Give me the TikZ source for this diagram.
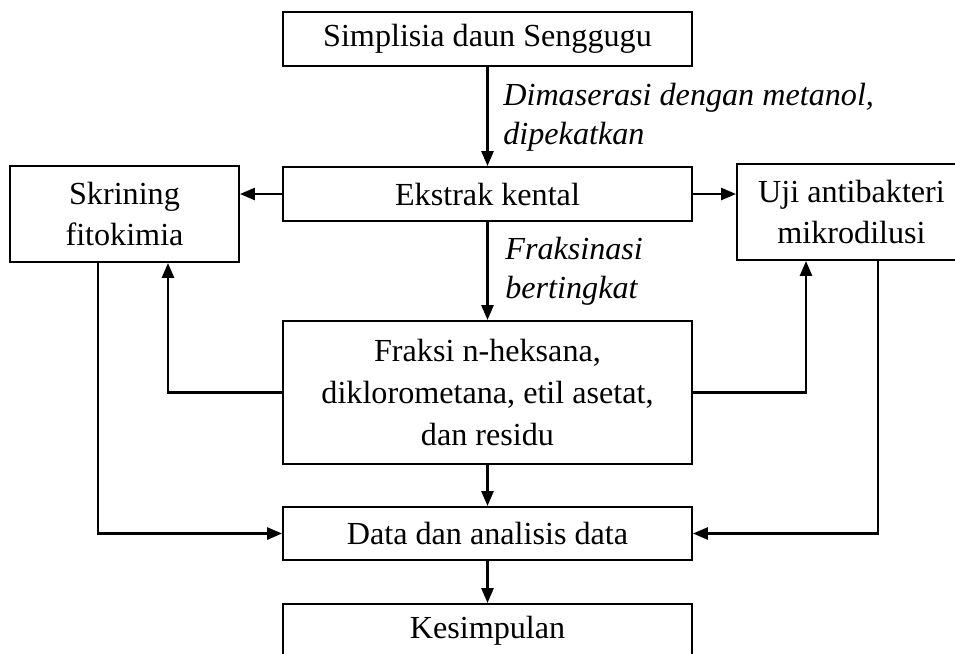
\documentclass[tikz,border=0pt]{standalone}
\usepackage{fontspec}
\setmainfont{Liberation Serif}
\usetikzlibrary{arrows.meta}

\begin{document}
\begin{tikzpicture}
[
  x=0.02cm, y=-0.02cm,
  box/.style={draw,line width=1.1pt,inner sep=0pt,align=center,
    font=\fontsize{18.3}{23.8}\selectfont},
  wide/.style={box,minimum width=8.18cm},
  side/.style={box,minimum width=4.58cm,minimum height=1.92cm},
  lbl/.style={anchor=west,align=left,inner sep=0pt,
    font=\fontsize{18.3}{22}\selectfont\itshape},
  arr/.style={line width=1.5pt,-{Triangle[length=0.3cm,width=0.24cm]}}
]

\clip (0,0) rectangle (955,653);

\node[wide,minimum height=1.08cm] (simplisia) at (487.5,39) {Simplisia daun Senggugu};
\node[wide,minimum height=1.08cm] (ekstrak) at (487.5,194) {Ekstrak kental};
\node[side] (skrining) at (124.5,214) {Skrining\\fitokimia};
\node[side] (uji) at (851.5,212) {Uji antibakteri\\mikrodilusi};
\node[wide,minimum height=2.86cm] (fraksi) at (487.5,392.5) {Fraksi n-heksana,\\diklorometana, etil asetat,\\dan residu};
\node[wide,minimum height=1.06cm] (data) at (487.5,533.5) {Data dan analisis data};
\node[wide,minimum height=1.08cm] (simpulan) at (487.5,631) {Kesimpulan};

\node[lbl] (maserasi) at (503,117) {Dimaserasi dengan metanol,\\dipekatkan};
\node[lbl] (fraksinasi) at (505,271) {Fraksinasi\\bertingkat};

\draw[arr] (simplisia) -- (ekstrak);
\draw[arr] (ekstrak) -- (fraksi);
\draw[arr] (fraksi) -- (data);
\draw[arr] (data) -- (simpulan);

\draw[arr] (ekstrak.west) -- (ekstrak.west -| skrining.east);
\draw[arr] (ekstrak.east) -- (ekstrak.east -| uji.west);

\draw[arr] (fraksi.west) -| ([xshift=0.87cm]skrining.south);
\draw[arr] (fraksi.east) -| ([xshift=-0.91cm]uji.south);

\draw[arr] ([xshift=-0.53cm]skrining.south) |- (data.west);
\draw[arr] ([xshift=0.53cm]uji.south) |- (data.east);
\end{tikzpicture}
\end{document}
